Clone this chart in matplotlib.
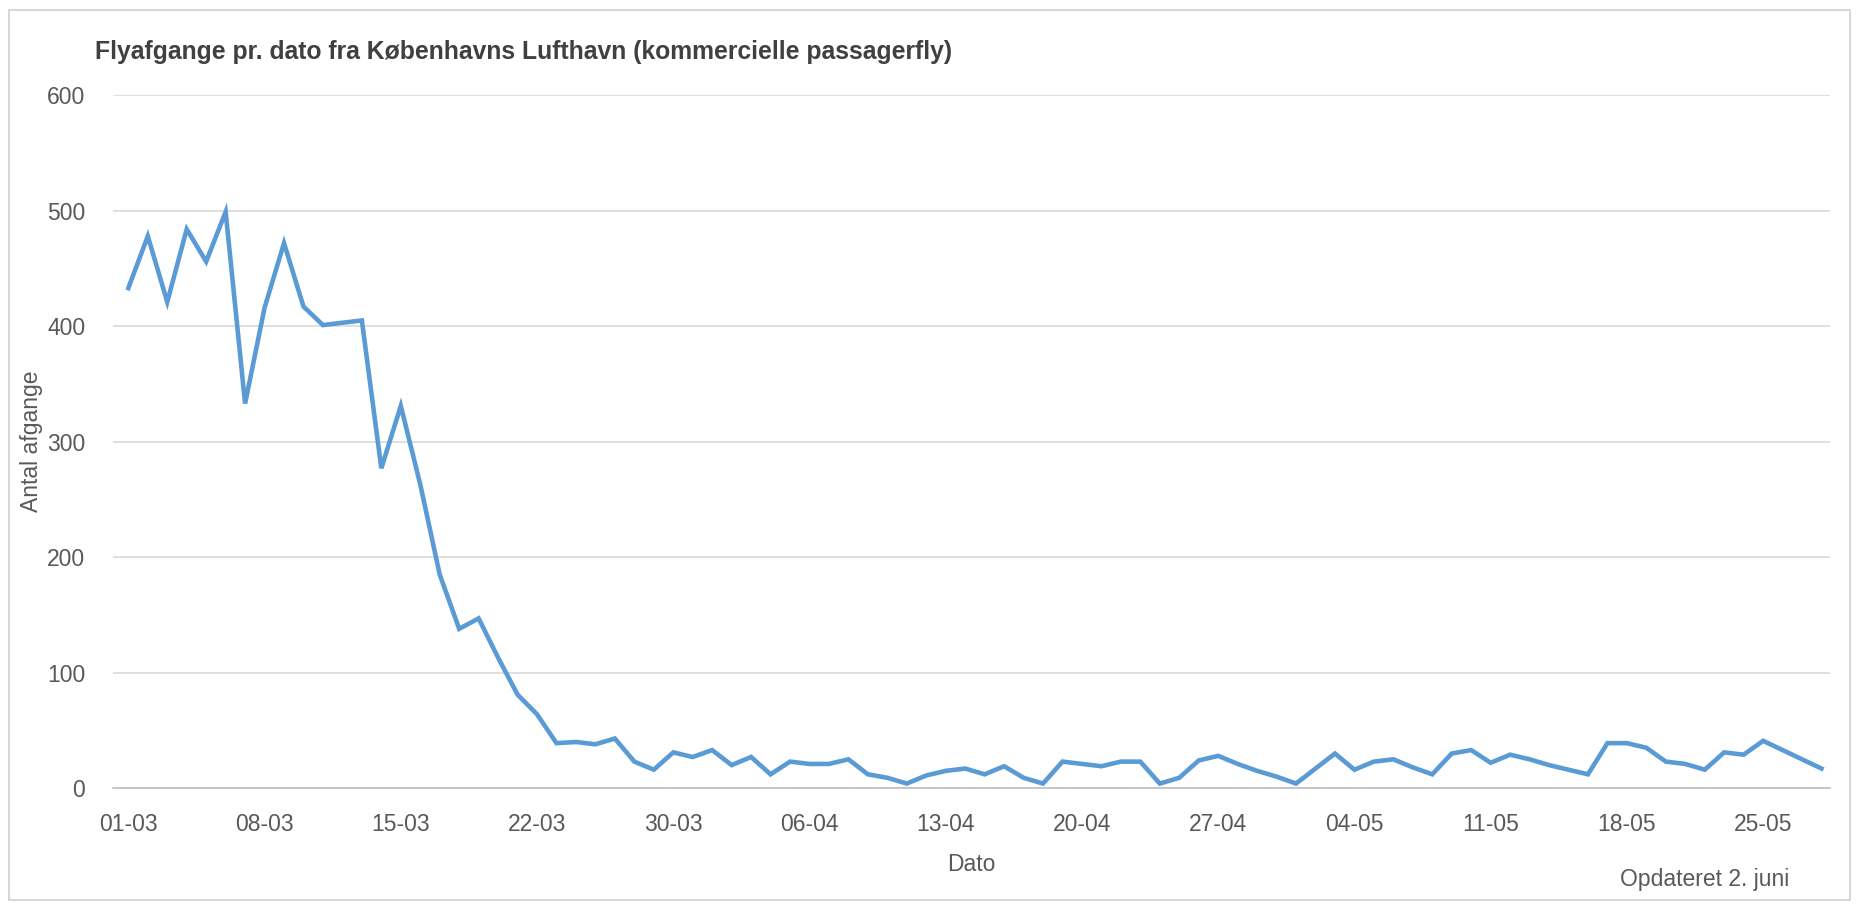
import numpy as np
import matplotlib
matplotlib.use("Agg")
import matplotlib.pyplot as plt
from matplotlib.patches import Rectangle

plt.rcParams['font.family'] = ['Liberation Sans Narrow', 'Liberation Sans', 'DejaVu Sans']

# daily departures, 01-03 onward (29-03 not in the series)
departures = [433, 478, 421, 484, 456, 499, 333, 416, 472, 417,
              401, 403, 405, 277, 331, 263, 185, 138, 147, 113,
              81, 64,
              39, 40, 38, 43, 23, 16, 31, 27, 33, 20, 27, 12, 23, 21, 21, 25,
              12, 9, 4, 11, 15, 17, 12, 19, 9, 4, 23, 21, 19, 23, 23, 4, 9,
              24, 28, 21, 15, 10, 4, 17, 30, 16, 23, 25, 18, 12, 30, 33, 22,
              29, 25, 20, 16, 12, 39, 39, 35, 23, 21, 16, 31, 29, 41, 33, 25,
              17]
tick_labels = ["01-03", "08-03", "15-03", "22-03", "30-03", "06-04", "13-04",
               "20-04", "27-04", "04-05", "11-05", "18-05", "25-05"]
y_ticks = [0, 100, 200, 300, 400, 500, 600]

x = np.arange(len(departures))

fig = plt.figure(figsize=(18.64, 9.07), dpi=100)
ax = fig.add_axes([0.0606, 0.131, 0.9214, 0.764])

ax.plot(x, departures, color="#5B9BD5", lw=3.3, solid_joinstyle="miter")

ax.set_xlim(-0.79, len(departures) - 1 + 0.46)
ax.set_ylim(0, 600)
ax.set_yticks(y_ticks)
ax.set_xticks(np.arange(0, 7 * len(tick_labels), 7))
ax.set_xticklabels(tick_labels)

ax.grid(axis="y", color="#d9d9d9", lw=1.2)
ax.set_axisbelow(True)
for side in ["top", "right", "left"]:
    ax.spines[side].set_visible(False)
ax.spines["bottom"].set_color("#bfbfbf")
ax.spines["bottom"].set_linewidth(1.2)
ax.spines["bottom"].set_zorder(1)
ax.tick_params(axis="both", length=0, labelsize=16.5, labelcolor="#595959")
ax.tick_params(axis="x", pad=18)
ax.tick_params(axis="y", pad=20)

ax.set_xlabel("Dato", fontsize=16.5, color="#595959", labelpad=12)
ax.set_ylabel("Antal afgange", fontsize=16.5, color="#595959")
ax.yaxis.set_label_coords(-0.041, 0.5)

fig.text(0.051, 0.943, "Flyafgange pr. dato fra Københavns Lufthavn (kommercielle passagerfly)",
         fontsize=17.8, fontweight="bold", color="#404040", va="center")
fig.text(0.96, 0.03, "Opdateret 2. juni", fontsize=16.5, color="#595959", ha="right", va="center")

fig.add_artist(Rectangle((0.005, 0.008), 0.9875, 0.9815, transform=fig.transFigure,
                         fill=False, ec="#d0d0d0", lw=1.2))

fig.savefig("out.png", dpi=100)
